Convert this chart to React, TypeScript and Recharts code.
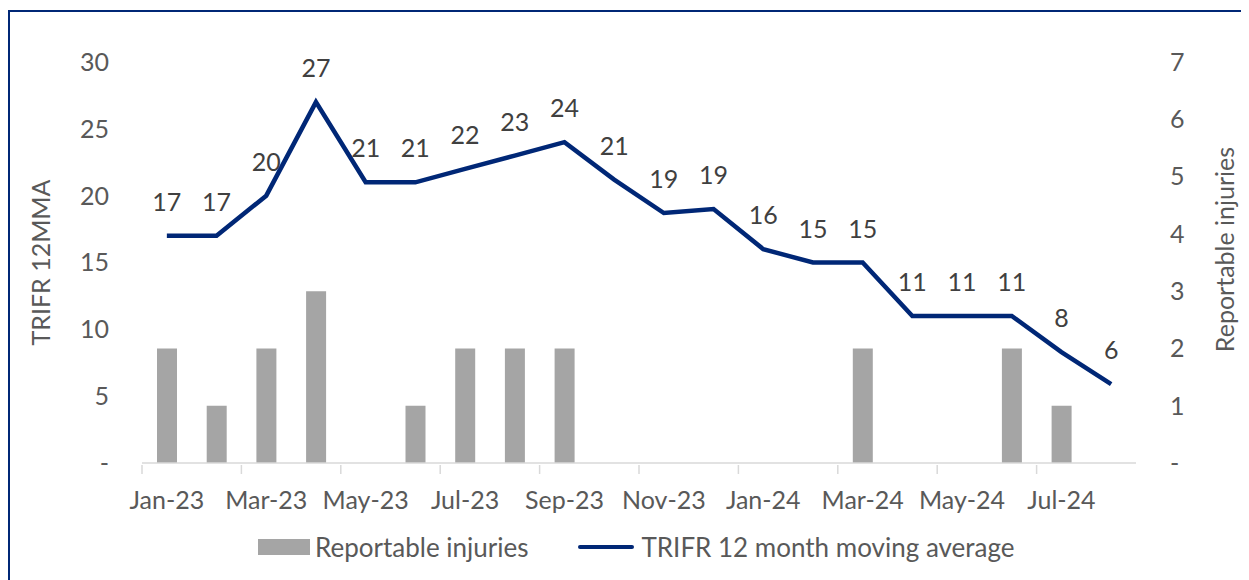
import React from "react";
import {
  Bar,
  ComposedChart,
  LabelList,
  Line,
  XAxis,
  YAxis,
} from "recharts";

const months = [
  "Jan-23", "Feb-23", "Mar-23", "Apr-23", "May-23", "Jun-23", "Jul-23",
  "Aug-23", "Sep-23", "Oct-23", "Nov-23", "Dec-23", "Jan-24", "Feb-24",
  "Mar-24", "Apr-24", "May-24", "Jun-24", "Jul-24", "Aug-24",
];
const reportableInjuries = [2, 1, 2, 3, 0, 1, 2, 2, 2, 0, 0, 0, 0, 0, 2, 0, 0, 2, 1, 0];
const trifr12mma = [17, 17, 20, 27, 21, 21, 22, 23, 24, 21.2, 18.7, 19, 16, 15, 15, 11, 11, 11, 8.3, 5.9];
const leftTicks = [0, 5, 10, 15, 20, 25, 30];
const rightTicks = [0, 1, 2, 3, 4, 5, 6, 7];

const data = months.map((month, i) => ({
  month,
  injuries: reportableInjuries[i],
  trifr: trifr12mma[i],
}));

const FONT = "Lato, 'Open Sans', sans-serif";
const NAVY = "#002776";
const GREY = "#a5a5a5";
const AXIS_TEXT = "#595959";

const dash = (v: number) => (v === 0 ? "-" : String(v));

function MonthTick(props: any) {
  const { x, y, payload, index } = props;
  const band = 994 / months.length;
  const ticks = [x - band / 2];
  if (index === months.length - 2) ticks.push(x + band * 1.5);
  return (
    <g>
      {ticks.map((tx) => (
        <line key={tx} x1={tx} x2={tx} y1={y} y2={y + 9} stroke="#d9d9d9" strokeWidth={1.5} />
      ))}
      <text x={x} y={y + 44} textAnchor="middle" fill={AXIS_TEXT} fontSize={25} fontFamily={FONT}>
        {payload.value}
      </text>
    </g>
  );
}

function AxisTitle({ viewBox, value, dx, dy }: any) {
  const cx = viewBox.x + dx;
  const cy = viewBox.y + viewBox.height / 2 + dy;
  return (
    <text
      x={cx}
      y={cy}
      transform={`rotate(-90 ${cx} ${cy})`}
      textAnchor="middle"
      dominantBaseline="central"
      fill={AXIS_TEXT}
      fontSize={25}
      fontFamily={FONT}
    >
      {value}
    </text>
  );
}

export default function App() {
  return (
    <div
      style={{
        position: "relative",
        width: 1241,
        height: 568,
        marginTop: 2,
        borderLeft: `2px solid ${NAVY}`,
        borderTop: `2px solid ${NAVY}`,
        fontFamily: FONT,
      }}
    >
      <ComposedChart
        width={1239}
        height={566}
        data={data}
        margin={{ top: 50, right: 0, left: 0, bottom: 55 }}
      >
        <XAxis
          dataKey="month"
          height={60}
          interval={1}
          tickLine={false}
          tickSize={0}
          axisLine={{ stroke: "#d9d9d9", strokeWidth: 1.5 }}
          tick={<MonthTick />}
        />
        <YAxis
          yAxisId="left"
          width={132}
          domain={[0, 30]}
          ticks={leftTicks}
          tickFormatter={dash}
          axisLine={false}
          tickLine={false}
          tickSize={0}
          tickMargin={33}
          tick={{ fill: AXIS_TEXT, fontSize: 25, fontFamily: FONT }}
          label={{ content: (p: any) => <AxisTitle {...p} value="TRIFR 12MMA" dx={30} dy={0} /> }}
        />
        <YAxis
          yAxisId="right"
          orientation="right"
          width={113}
          domain={[0, 7]}
          ticks={rightTicks}
          tickFormatter={dash}
          axisLine={false}
          tickLine={false}
          tickSize={0}
          tickMargin={34}
          tick={{ fill: AXIS_TEXT, fontSize: 25, fontFamily: FONT, textAnchor: "start" }}
          label={{ content: (p: any) => <AxisTitle {...p} value="Reportable injuries" dx={88} dy={-13} /> }}
        />
        <Bar
          yAxisId="right"
          dataKey="injuries"
          fill={GREY}
          barSize={20}
          isAnimationActive={false}
        />
        <Line
          yAxisId="left"
          dataKey="trifr"
          stroke={NAVY}
          strokeWidth={4.5}
          dot={false}
          type="linear"
          isAnimationActive={false}
        >
          <LabelList
            dataKey="trifr"
            position="top"
            offset={25}
            formatter={(v: any) => Math.round(Number(v))}
            fill="#404040"
            fontSize={25}
            fontFamily={FONT}
          />
        </Line>
      </ComposedChart>
      <div
        style={{
          position: "absolute",
          top: 519,
          left: 248,
          display: "flex",
          alignItems: "center",
          fontSize: 26,
          color: AXIS_TEXT,
          whiteSpace: "nowrap",
        }}
      >
        <span style={{ display: "inline-block", width: 52, height: 16, background: GREY, marginRight: 5 }} />
        <span>Reportable injuries</span>
        <span style={{ display: "inline-block", width: 56, height: 4, background: NAVY, marginLeft: 50, marginRight: 7, borderRadius: 2 }} />
        <span>TRIFR 12 month moving average</span>
      </div>
    </div>
  );
}
